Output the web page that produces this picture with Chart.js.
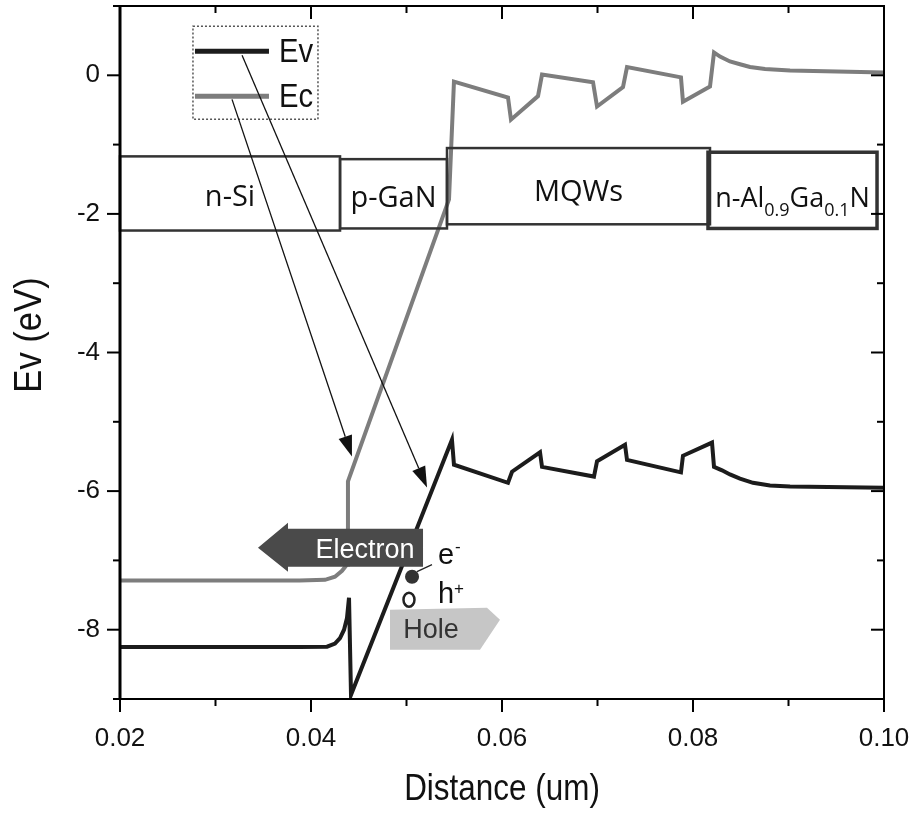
<!DOCTYPE html>
<html><head><meta charset="utf-8">
<script src="https://cdn.jsdelivr.net/npm/chart.js@4.4.1/dist/chart.umd.min.js"></script>
<style>html,body{margin:0;padding:0;background:#fff;}canvas{display:block;}</style>
</head><body>
<canvas id="c" width="919" height="817"></canvas>
<script>
// ---- data ----
const evX = [0.02, 0.0388, 0.04168, 0.04251, 0.04304, 0.04346, 0.04377, 0.04398, 0.04419, 0.05476, 0.05497, 0.06063, 0.06105, 0.06398, 0.06419, 0.06963, 0.06995, 0.07288, 0.07309, 0.07874, 0.07895, 0.08199, 0.08220, 0.08304, 0.08387, 0.08492, 0.08628, 0.08806, 0.09016, 0.1];
const evY = [-8.25, -8.25, -8.245, -8.20, -8.12, -8.00, -7.83, -7.54, -8.94, -5.26, -5.62, -5.88, -5.72, -5.44, -5.65, -5.79, -5.57, -5.33, -5.55, -5.73, -5.49, -5.30, -5.65, -5.70, -5.76, -5.82, -5.88, -5.92, -5.935, -5.95];
const ecX = [0.02, 0.0388, 0.04147, 0.04251, 0.04325, 0.04377, 0.04387, 0.05445, 0.05497, 0.06063, 0.06094, 0.06377, 0.06419, 0.06953, 0.06995, 0.07267, 0.07309, 0.07874, 0.07895, 0.08178, 0.08220, 0.08283, 0.08387, 0.08492, 0.08597, 0.08754, 0.09016, 0.1];
const ecY = [-7.29, -7.29, -7.28, -7.235, -7.15, -7.06, -5.86, -1.79, -0.09, -0.32, -0.64, -0.30, 0.01, -0.10, -0.45, -0.17, 0.12, -0.03, -0.38, -0.16, 0.33, 0.27, 0.20, 0.16, 0.12, 0.09, 0.07, 0.04];
const xTicks = [0.02, 0.04, 0.06, 0.08, 0.10];
const yTicks = [0, -2, -4, -6, -8];
const seriesNames = ['Ev', 'Ec'];
const xTitle = 'Distance (um)';
const yTitle = 'Ev (eV)';
// layer regions (x in um, y in eV)
const regionNames = ['n-Si', 'p-GaN', 'MQWs', 'n-Al|0.9|Ga|0.1|N'];
const regionX0 = [0.02, 0.04304, 0.05424, 0.08157];
const regionX1 = [0.04304, 0.05424, 0.08178, 0.09927];
const regionTop = [-1.17, -1.21, -1.05, -1.11];
const regionBottom = [-2.24, -2.21, -2.15, -2.21];
const regionLabelY = [-1.89, -1.905, -1.82, -1.905];

const ctx = document.getElementById('c').getContext('2d');
const SANS = '"Liberation Sans", Arial, sans-serif';
const LBL = '"Open Sans", "Noto Sans", sans-serif';

function ctext(c, s, x, y, font, sx, align, color) {
  c.save(); c.font = font; c.fillStyle = color; c.textAlign = align; c.textBaseline = 'alphabetic';
  c.translate(x, y); c.scale(sx, 1); c.fillText(s, 0, 0); c.restore();
}
function arrowLine(c, x0, y0, x1, y1) {
  const ang = Math.atan2(y1 - y0, x1 - x0), L = 21, W = 7;
  const bx = x1 - L * Math.cos(ang), by = y1 - L * Math.sin(ang);
  c.beginPath(); c.moveTo(x0, y0); c.lineTo(bx, by); c.stroke();
  c.beginPath(); c.moveTo(x1, y1);
  c.lineTo(bx + W * Math.sin(ang), by - W * Math.cos(ang));
  c.lineTo(bx - W * Math.sin(ang), by + W * Math.cos(ang));
  c.closePath(); c.fill();
}

const decor = {
  id: 'decor',
  afterDatasetsDraw(chart) {
    const c = chart.ctx, xs = chart.scales.x, ys = chart.scales.y;
    const X = v => xs.getPixelForValue(v), Y = v => ys.getPixelForValue(v);
    c.save();
    // region boxes
    regionNames.forEach((n, i) => {
      const x0 = X(regionX0[i]), x1 = X(regionX1[i]), y0 = Y(regionTop[i]), y1 = Y(regionBottom[i]);
      c.strokeStyle = '#333'; c.lineWidth = i === 3 ? 3.5 : 2.5;
      c.strokeRect(x0, y0, x1 - x0, y1 - y0);
      const cx = (x0 + x1) / 2, by = Y(regionLabelY[i]);
      if (n.indexOf('|') < 0) {
        c.font = '29px ' + LBL; c.fillStyle = '#111'; c.textAlign = 'center'; c.textBaseline = 'alphabetic';
        c.fillText(n, cx, by);
      } else {
        const parts = n.split('|');
        const big = '27px ' + LBL, small = '18px ' + LBL;
        let w = 0;
        parts.forEach((p, k) => { c.font = k % 2 ? small : big; w += c.measureText(p).width; });
        let x = cx - w / 2;
        c.fillStyle = '#111'; c.textAlign = 'left'; c.textBaseline = 'alphabetic';
        parts.forEach((p, k) => {
          c.font = k % 2 ? small : big;
          c.fillText(p, x, k % 2 ? by + 9 : by);
          x += c.measureText(p).width;
        });
      }
    });
    // legend box
    const lx0 = X(0.02764), lx1 = X(0.04073), ly0 = Y(0.708), ly1 = Y(-0.635);
    c.setLineDash([2, 2]); c.strokeStyle = '#555'; c.lineWidth = 1.5;
    c.strokeRect(lx0, ly0, lx1 - lx0, ly1 - ly0); c.setLineDash([]);
    const legY = [0.347, -0.303], legCol = ['#1c1c1c', '#7d7d7d'];
    seriesNames.forEach((s, i) => {
      const y = Y(legY[i]);
      c.strokeStyle = legCol[i]; c.lineWidth = 5;
      c.beginPath(); c.moveTo(X(0.02785), y); c.lineTo(X(0.0356), y); c.stroke();
      ctext(c, s, X(0.03665), y + 11, '34px ' + SANS, 0.86, 'left', '#111');
    });
    // pointer arrows from legend
    c.strokeStyle = '#111'; c.fillStyle = '#111'; c.lineWidth = 1.3;
    arrowLine(c, X(0.03278), Y(0.289), X(0.05215), Y(-5.949));
    arrowLine(c, X(0.03173), Y(-0.347), X(0.04429), Y(-5.502));
    // electron arrow
    c.fillStyle = '#4a4a4a';
    c.beginPath();
    c.moveTo(X(0.03445), Y(-6.816));
    c.lineTo(X(0.03759), Y(-6.455));
    c.lineTo(X(0.03759), Y(-6.542));
    c.lineTo(X(0.05173), Y(-6.542));
    c.lineTo(X(0.05173), Y(-7.090));
    c.lineTo(X(0.03759), Y(-7.090));
    c.lineTo(X(0.03759), Y(-7.162));
    c.closePath(); c.fill();
    c.font = '27px ' + SANS; c.fillStyle = '#fff'; c.textAlign = 'center'; c.textBaseline = 'middle';
    c.fillText('Electron', X(0.04565), Y(-6.859));
    // hole arrow
    c.fillStyle = '#c6c6c6';
    c.beginPath();
    c.moveTo(X(0.04827), Y(-7.711)); c.lineTo(X(0.05843), Y(-7.682)); c.lineTo(X(0.05979), Y(-7.856));
    c.lineTo(X(0.05770), Y(-8.289)); c.lineTo(X(0.04827), Y(-8.289)); c.closePath(); c.fill();
    c.font = '27px ' + SANS; c.fillStyle = '#333'; c.textAlign = 'center'; c.textBaseline = 'middle';
    c.fillText('Hole', X(0.05257), Y(-8.014));
    // carriers
    c.fillStyle = '#333';
    c.beginPath(); c.arc(X(0.05058), Y(-7.235), 7, 0, Math.PI * 2); c.fill();
    c.strokeStyle = '#222'; c.lineWidth = 1.2;
    c.beginPath(); c.moveTo(X(0.0511), Y(-7.162)); c.lineTo(X(0.05267), Y(-7.061)); c.stroke();
    c.lineWidth = 2.5;
    c.beginPath(); c.ellipse(X(0.05026), Y(-7.567), 5.5, 7, 0, 0, Math.PI * 2); c.stroke();
    c.font = '29px ' + SANS; c.fillStyle = '#111'; c.textAlign = 'left'; c.textBaseline = 'alphabetic';
    c.fillText('e', X(0.0533), Y(-7.047));
    c.fillText('h', X(0.0533), Y(-7.61));
    c.font = '17px ' + SANS;
    c.fillText('-', X(0.0533) + 17, Y(-7.047) - 12);
    c.fillText('+', X(0.0533) + 16, Y(-7.61) - 9);
    c.restore();
  },
  afterDraw(chart) {
    const c = chart.ctx, a = chart.chartArea, xs = chart.scales.x, ys = chart.scales.y;
    c.save();
    c.strokeStyle = '#000';
    c.lineWidth = 2;
    c.strokeRect(a.left, a.top, a.right - a.left, a.bottom - a.top);
    c.lineWidth = 3;
    c.beginPath(); c.moveTo(a.left, a.top); c.lineTo(a.left, a.bottom); c.stroke();
    c.lineWidth = 2;
    xs.ticks.forEach(t => {
      const p = xs.getPixelForValue(t.value);
      const L = xTicks.some(v => Math.abs(v - t.value) < 1e-9) ? 13 : 7;
      c.beginPath(); c.moveTo(p, a.bottom); c.lineTo(p, a.bottom + L); c.stroke();
      c.beginPath(); c.moveTo(p, a.top); c.lineTo(p, a.top + L); c.stroke();
    });
    ys.ticks.forEach(t => {
      const p = ys.getPixelForValue(t.value);
      const L = yTicks.some(v => Math.abs(v - t.value) < 1e-9) ? 13 : 7;
      c.beginPath(); c.moveTo(a.left - L, p); c.lineTo(a.left, p); c.stroke();
      c.beginPath(); c.moveTo(a.right - L, p); c.lineTo(a.right, p); c.stroke();
    });
    // axis titles
    ctext(c, xTitle, (a.left + a.right) / 2, 800, '37px ' + SANS, 0.85, 'center', '#111');
    c.save(); c.translate(41, 335); c.rotate(-Math.PI / 2);
    ctext(c, yTitle, 0, 0, '38px ' + SANS, 0.91, 'center', '#111');
    c.restore();
    c.restore();
  }
};

new Chart(ctx, {
  type: 'line',
  data: {
    datasets: [
      { label: seriesNames[0], data: evX.map((x, i) => ({ x, y: evY[i] })), borderColor: '#1c1c1c', borderWidth: 4, pointRadius: 0, tension: 0, fill: false },
      { label: seriesNames[1], data: ecX.map((x, i) => ({ x, y: ecY[i] })), borderColor: '#7d7d7d', borderWidth: 4, pointRadius: 0, tension: 0, fill: false }
    ]
  },
  options: {
    responsive: false, animation: false, devicePixelRatio: 1,
    layout: { padding: { top: 6, right: 35, left: 0, bottom: 0 } },
    plugins: { legend: { display: false }, tooltip: { enabled: false } },
    scales: {
      x: {
        type: 'linear', min: 0.02, max: 0.1,
        afterFit(s) { s.height = 118; s.paddingLeft = 0; s.paddingRight = 0; },
        grid: { display: false, drawTicks: false }, border: { display: false },
        ticks: {
          stepSize: 0.01, padding: 24, autoSkip: false, maxRotation: 0, color: '#111',
          font: { family: SANS, size: 26 },
          callback: v => { const t = xTicks.find(u => Math.abs(u - v) < 1e-9); return t === undefined ? '' : t.toFixed(2); }
        }
      },
      y: {
        type: 'linear', min: -9, max: 1,
        afterFit(s) { s.width = 120; s.paddingTop = 0; s.paddingBottom = 0; },
        grid: { display: false, drawTicks: false }, border: { display: false },
        ticks: {
          stepSize: 1, padding: 20, autoSkip: false, color: '#111',
          font: { family: SANS, size: 26 },
          callback: v => { const t = yTicks.find(u => Math.abs(u - v) < 1e-9); return t === undefined ? '' : String(t); }
        }
      }
    }
  },
  plugins: [decor]
});
</script>
</body></html>
